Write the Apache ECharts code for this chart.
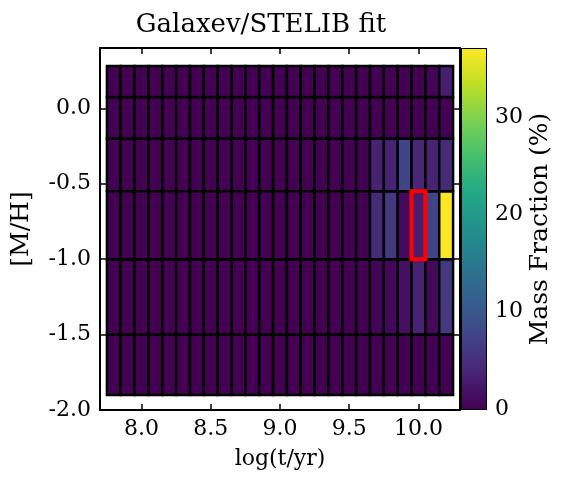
<!DOCTYPE html>
<html>
<head>
<meta charset="utf-8">
<script src="https://cdn.jsdelivr.net/npm/echarts@6/dist/echarts.min.js"></script>
<style>
  html, body { margin: 0; padding: 0; background: #fff; }
  #chart { width: 571px; height: 490px; }
</style>
</head>
<body>
<div id="chart"></div>
<script>
// log(t/yr) of each age bin (column centres)
const ages = [7.8, 7.9, 8.0, 8.1, 8.2, 8.3, 8.4, 8.5, 8.6, 8.7, 8.8, 8.9, 9.0,
  9.1, 9.2, 9.3, 9.4, 9.5, 9.6, 9.7, 9.8, 9.9, 10.0, 10.1, 10.2]
// [M/H] bin edges, bottom to top
const mhEdges = [-1.9, -1.5, -1.0, -0.55, -0.2, 0.075, 0.28]

// mass fraction (%) per metallicity row, bottom row first
const row0 = [0, 0, 0, 0, 0, 0, 0, 0, 0, 0, 0, 0, 0, 0, 0, 0, 0, 0, 0, 0, 0, 0, 0, 0, 0]
const row1 = [0, 0, 0, 0, 0, 0, 0, 0, 0, 0, 0, 0, 0, 0, 0, 0, 0, 0, 0, 0.4, 0.6, 1.5, 3.5, 0.8, 6.0]
const row2 = [0, 0, 0, 0, 0, 0, 0, 0, 0, 0, 0, 0, 0, 0, 0, 0, 0, 0, 0, 4.5, 6.0, 1.0, 3.0, 7.5, 37.0]
const row3 = [0, 0, 0, 0, 0, 0, 0, 0, 0, 0, 0, 0, 0, 0, 0, 0, 0, 0, 0, 3.5, 3.5, 7.5, 4.0, 3.5, 4.5]
const row4 = [0, 0, 0, 0, 0, 0, 0, 0, 0, 0, 0, 0, 0, 0, 0, 0, 0, 0, 0, 0, 0, 0, 0, 0, 0]
const row5 = [0, 0, 0, 0, 0, 0, 0, 0, 0, 0, 0, 0, 0, 0, 0, 0, 0, 0, 0, 0, 0, 0, 0, 0.3, 3.0]
const rows = [row0, row1, row2, row3, row4, row5]

// best fit bin: [age, mh low, mh high]
const bestFit = [10.0, -1.0, -0.55]

const xTicks = [8.0, 8.5, 9.0, 9.5, 10.0]
const yTicks = [-2.0, -1.5, -1.0, -0.5, 0.0]
const cbarTicks = [0, 10, 20, 30]
const cbarMax = 37

const viridis = ["#440154", "#482475", "#414487", "#355f8d", "#2a788e",
  "#21918c", "#22a884", "#44bf70", "#7ad151", "#bddf26", "#fde725"]

const halfW = 0.05
const font = "DejaVu Serif"

const cells = []
rows.forEach((r, i) => {
  r.forEach((v, j) => {
    cells.push([ages[j], mhEdges[i], mhEdges[i + 1], v])
  })
})

function rectFor(api) {
  const p0 = api.coord([api.value(0) - halfW, api.value(2)])
  const p1 = api.coord([api.value(0) + halfW, api.value(1)])
  return { x: p0[0], y: p0[1], width: p1[0] - p0[0], height: p1[1] - p0[1] }
}

const chart = echarts.init(document.getElementById("chart"))

const axisCommon = {
  axisLine: { onZero: false, lineStyle: { color: "#000", width: 2 } },
  splitLine: { show: false },
}

const option = {
  animation: false,
  backgroundColor: "#fff",
  title: {
    text: "Galaxev/STELIB fit",
    left: 256,
    top: 7,
    textAlign: "center",
    textStyle: { fontFamily: font, fontSize: 26, fontWeight: "normal", color: "#000" },
  },
  grid: [
    { left: 100, right: 111, top: 48, bottom: 80 },
    { left: 462, width: 24, top: 49, bottom: 81, show: true, borderColor: "#000", borderWidth: 2 },
  ],
  xAxis: [
    {
      ...axisCommon,
      type: "value",
      gridIndex: 0,
      min: 7.7,
      max: 10.3,
      name: "log(t/yr)",
      nameLocation: "middle",
      nameGap: 38,
      nameTextStyle: { fontFamily: font, fontSize: 22, color: "#000" },
      axisTick: { inside: true, length: 6, lineStyle: { color: "#000", width: 1.5 }, customValues: xTicks },
      axisLabel: {
        fontFamily: font, fontSize: 22, color: "#000", margin: 8,
        customValues: xTicks, formatter: (v) => v.toFixed(1),
      },
    },
    {
      ...axisCommon,
      type: "value",
      gridIndex: 0,
      position: "top",
      min: 7.7,
      max: 10.3,
      axisTick: { inside: true, length: 6, lineStyle: { color: "#000", width: 1.5 }, customValues: xTicks },
      axisLabel: { show: false },
    },
    {
      type: "category",
      gridIndex: 1,
      data: [""],
      axisLine: { show: false },
      axisTick: { show: false },
      axisLabel: { show: false },
    },
  ],
  yAxis: [
    {
      ...axisCommon,
      type: "value",
      gridIndex: 0,
      min: -2.0,
      max: 0.4,
      name: "[M/H]",
      nameLocation: "middle",
      nameRotate: 90,
      nameGap: 66,
      nameTextStyle: { fontFamily: font, fontSize: 25, color: "#000" },
      axisTick: { inside: true, length: 6, lineStyle: { color: "#000", width: 1.5 }, customValues: yTicks },
      axisLabel: {
        fontFamily: font, fontSize: 22, color: "#000", margin: 9,
        customValues: yTicks, formatter: (v) => v.toFixed(1),
      },
    },
    {
      ...axisCommon,
      type: "value",
      gridIndex: 0,
      position: "right",
      min: -2.0,
      max: 0.4,
      axisTick: { inside: true, length: 6, lineStyle: { color: "#000", width: 1.5 }, customValues: yTicks },
      axisLabel: { show: false },
    },
    {
      type: "value",
      gridIndex: 1,
      position: "right",
      min: 0,
      max: cbarMax,
      name: "Mass Fraction (%)",
      nameLocation: "middle",
      nameRotate: 90,
      nameGap: 42,
      nameTextStyle: { fontFamily: font, fontSize: 25, color: "#000" },
      axisLine: { show: false },
      splitLine: { show: false },
      axisTick: { inside: true, length: 5, lineStyle: { color: "#222", width: 1 }, customValues: cbarTicks },
      axisLabel: { fontFamily: font, fontSize: 22, color: "#000", margin: 9, customValues: cbarTicks },
    },
  ],
  visualMap: {
    show: false,
    type: "continuous",
    min: 0,
    max: cbarMax,
    dimension: 3,
    seriesIndex: 0,
    inRange: { color: viridis },
  },
  series: [
    {
      type: "custom",
      xAxisIndex: 0,
      yAxisIndex: 0,
      data: cells,
      encode: { x: 0, y: [1, 2] },
      renderItem: (params, api) => ({
        type: "rect",
        shape: rectFor(api),
        style: { fill: api.visual("color"), stroke: "#000", lineWidth: 2.5 },
      }),
    },
    {
      type: "custom",
      xAxisIndex: 0,
      yAxisIndex: 0,
      data: [bestFit],
      encode: { x: 0, y: [1, 2] },
      z: 5,
      renderItem: (params, api) => ({
        type: "rect",
        shape: rectFor(api),
        style: { fill: "none", stroke: "#ff0000", lineWidth: 4 },
      }),
    },
    {
      type: "bar",
      xAxisIndex: 2,
      yAxisIndex: 2,
      data: [cbarMax],
      barWidth: "100%",
      itemStyle: {
        color: {
          type: "linear", x: 0, y: 1, x2: 0, y2: 0,
          colorStops: viridis.map((c, i) => ({ offset: i / (viridis.length - 1), color: c })),
        },
      },
    },
  ],
}

chart.setOption(option)
</script>
</body>
</html>
